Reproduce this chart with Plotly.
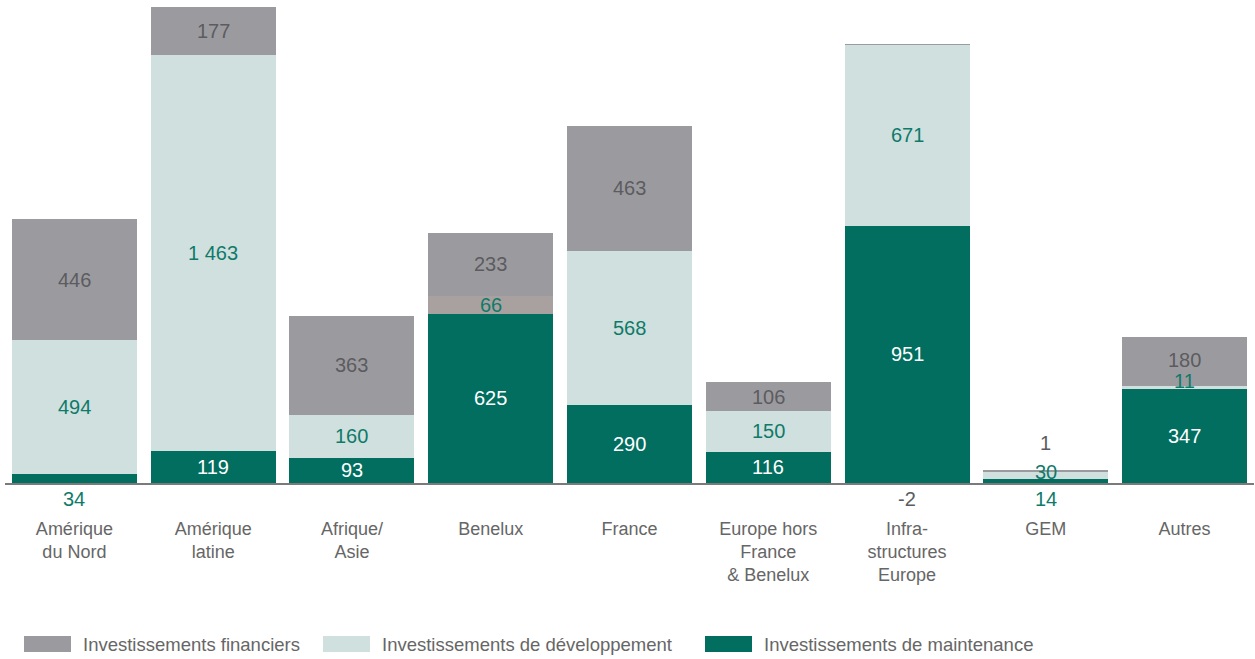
import plotly.graph_objects as go

categories = ["Amérique<br>du Nord", "Amérique<br>latine", "Afrique/<br>Asie", "Benelux", "France",
              "Europe hors<br>France<br>& Benelux", "Infra-<br>structures<br>Europe", "GEM", "Autres"]
maintenance = [34, 119, 93, 625, 290, 116, 951, 14, 347]
developpement = [494, 1463, 160, 66, 568, 150, 671, 30, 11]
financiers = [446, 177, 363, 233, 463, 106, -2, 1, 180]
series_names = ["Investissements financiers", "Investissements de développement", "Investissements de maintenance"]

C_MAINT = "#016e60"
C_DEV = "#d0e0de"
C_FIN = "#9b9b9f"
C_DEV_ALT = "#a9a19f"
T_TEAL = "#0f7a6a"
T_GRAY = "#5c5c60"

xs = list(range(len(categories)))
dev_colors = [C_DEV_ALT if c == "Benelux" else C_DEV for c in categories]

fig = go.Figure()
fig.add_bar(x=xs, y=maintenance, marker=dict(color=C_MAINT, line_width=0), name=series_names[2], hoverinfo="skip")
fig.add_bar(x=xs, y=developpement, marker=dict(color=dev_colors, line_width=0), name=series_names[1], hoverinfo="skip")
fig.add_bar(x=xs, y=financiers, marker=dict(color=C_FIN, line_width=0), name=series_names[0], hoverinfo="skip")

# label placement overrides (style only)
special = {
    ("m", 0): ("below", 0), ("m", 7): ("below", 0), ("f", 6): ("below", 0),
    ("f", 7): ("above", 0), ("d", 7): ("center", 3), ("d", 8): ("center", 7), ("f", 8): ("center", 2),
}

def fmt(v):
    s = f"{abs(v):,}".replace(",", " ")
    return ("-" if v < 0 else "") + s

annotations = []
for i in xs:
    base = 0
    for key, vals, col in (("m", maintenance, "#ffffff"), ("d", developpement, T_TEAL), ("f", financiers, T_GRAY)):
        v = vals[i]
        mode, shift = special.get((key, i), ("center", 0))
        if mode == "below":
            y, ys, c = 0, -16, (T_TEAL if key == "m" else T_GRAY)
        elif mode == "above":
            y, ys, c = base + v, 28, T_GRAY
        else:
            y, ys, c = base + v / 2, shift, col
        annotations.append(dict(x=i, y=y, xref="x", yref="y", text=fmt(v), showarrow=False,
                                yshift=ys, font=dict(size=20, color=c)))
        base += v

# custom legend
legend_items = [(series_names[0], C_FIN, 24), (series_names[1], C_DEV, 323), (series_names[2], C_MAINT, 705)]
shapes = []
W = 1255
for name, col, px in legend_items:
    shapes.append(dict(type="rect", xref="paper", yref="paper",
                       x0=(px - 5) / (W - 6), x1=(px + 47 - 5) / (W - 6),
                       y0=-(636 - 483) / 476, y1=-(652 - 483) / 476,
                       fillcolor=col, line_width=0))
    annotations.append(dict(xref="paper", yref="paper", x=(px + 57 - 5) / (W - 6), y=-(644 - 483) / 476,
                            xanchor="left", yanchor="middle", text=name, showarrow=False,
                            font=dict(size=18.5, color="#666666")))

fig.update_layout(
    barmode="stack", bargap=0.1, showlegend=False,
    width=1255, height=659, margin=dict(l=5, r=1, t=7, b=176),
    plot_bgcolor="white", paper_bgcolor="white",
    font=dict(family="Liberation Sans, Arial, sans-serif"),
    annotations=annotations, shapes=shapes,
    xaxis=dict(tickvals=xs, ticktext=categories, range=[-0.5, len(xs) - 0.5], showgrid=False,
               showline=True, linecolor="#7a7a7a", linewidth=2, ticks="", ticklabelstandoff=28,
               tickfont=dict(size=18, color="#666666"), zeroline=False),
    yaxis=dict(range=[0, 1759], visible=False, showgrid=False, zeroline=False),
)
fig.write_html("out.html", config={"displayModeBar": False},
               post_script="document.body.style.margin='0';document.body.style.padding='0';")
